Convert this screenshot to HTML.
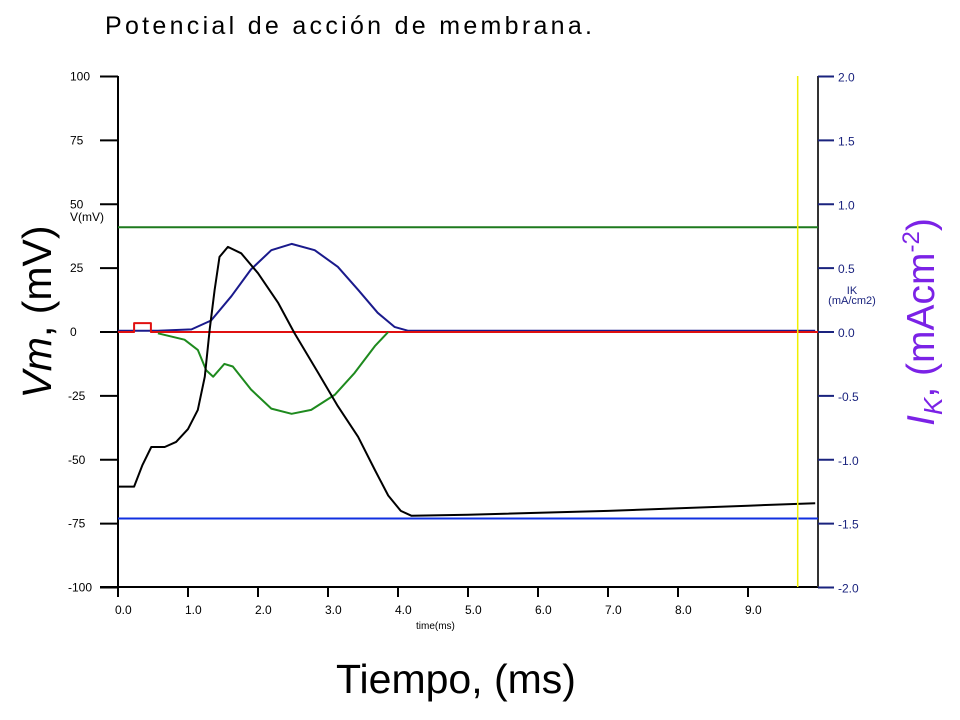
<!DOCTYPE html>
<html><head><meta charset="utf-8"><style>
body{margin:0;background:#fff;width:960px;height:720px;overflow:hidden;font-family:"Liberation Sans",sans-serif}
svg{display:block}
</style></head><body>
<svg id="chart" width="960" height="720" font-family="Liberation Sans, sans-serif">
<text x="105" y="34" font-size="25" textLength="487" lengthAdjust="spacing" fill="#000">Potencial de acción de membrana.</text>
<g id="axes"></g>
<g id="series"></g>
<text transform="translate(51,312) rotate(-90)" text-anchor="middle" font-size="41" fill="#000"><tspan font-style="italic">Vm</tspan>, (mV)</text>
<text x="456" y="693" text-anchor="middle" font-size="41" fill="#000">Tiempo, (ms)</text>
<text transform="translate(934,322) rotate(-90)" text-anchor="middle" font-size="39" fill="#7b22e6"><tspan font-style="italic">I</tspan><tspan font-style="italic" font-size="26" dy="8">K</tspan><tspan dy="-8">, (mAcm</tspan><tspan font-size="24" dy="-15">-2</tspan><tspan dy="15">)</tspan></text>
</svg>
<script>
const xTicks=[0,1,2,3,4,5,6,7,8,9];
const vTicks=[100,75,50,25,0,-25,-50,-75,-100];
const iTicks=[2.0,1.5,1.0,0.5,0.0,-0.5,-1.0,-1.5,-2.0];
const vmTime=[0,0.23,0.35,0.476,0.667,0.83,1.0,1.14,1.24,1.31,1.38,1.45,1.57,1.76,2.0,2.29,2.52,2.86,3.14,3.43,3.67,3.86,4.04,4.19,5,7,9,9.96];
const vmValues=[-60.5,-60.5,-52,-45,-45,-43,-38,-30.5,-17.5,1,16.4,29.4,33.3,30.8,23,11.3,-0.4,-16,-29,-41,-54,-64,-70,-71.9,-71.5,-70,-68,-67];
const ikTime=[0,0.57,1.05,1.33,1.62,1.9,2.19,2.48,2.81,3.14,3.43,3.71,3.95,4.14,9.96];
const ikValues=[0.01,0.01,0.02,0.09,0.28,0.49,0.64,0.69,0.64,0.51,0.33,0.15,0.04,0.01,0.01];
const inaTime=[0.57,0.95,1.14,1.26,1.36,1.52,1.64,1.9,2.19,2.48,2.76,3.1,3.38,3.67,3.86];
const inaValues=[-0.01,-0.06,-0.14,-0.3,-0.35,-0.25,-0.27,-0.45,-0.6,-0.64,-0.61,-0.49,-0.32,-0.11,0];
const stimTime=[0,0.23,0.23,0.47,0.47,10];
const stimValues=[0,0,3.5,3.5,0,0];
const greenLevel=41, blueLevel=-73, cursorTime=9.71;
const X=t=>118+t*70, YV=v=>332-v*2.555, YI=i=>332-i*127.75;
const NS="http://www.w3.org/2000/svg";
function mk(tag,attrs,parent){const e=document.createElementNS(NS,tag);for(const k in attrs)e.setAttribute(k,attrs[k]);parent.appendChild(e);return e;}
const ax=document.getElementById('axes'), se=document.getElementById('series');
let e;
e=mk('line',{x1:118,y1:76,x2:118,y2:597,stroke:'#000','stroke-width':2},ax);


e=mk('line',{x1:100,y1:587,x2:818,y2:587,stroke:'#000','stroke-width':2},ax);


e=mk('line',{x1:818,y1:76,x2:818,y2:587,stroke:'#333','stroke-width':2},ax);


vTicks.forEach(v=>{const y=YV(v);
 e=mk('line',{x1:100,y1:y,x2:118,y2:y,stroke:'#000','stroke-width':2},ax);
 
 
 e=mk('text',{x:v<0?68:70,y:y+4,'font-size':12,fill:'#000'},ax);e.textContent=v===0?'0':(v<0?'-'+Math.abs(v):String(v));
 
 });
e=mk('text',{x:70,y:221,'font-size':12,fill:'#000'},ax);e.textContent='V(mV)';


iTicks.forEach(i=>{const y=YI(i);
 e=mk('line',{x1:818,y1:y,x2:834,y2:y,stroke:'#1a237e','stroke-width':2},ax);
 
 
 e=mk('text',{x:838,y:y+5,'font-size':12,fill:'#1a237e'},ax);e.textContent=i.toFixed(1);
 
 });
e=mk('text',{x:852,y:294,'font-size':11,fill:'#1a237e','text-anchor':'middle'},ax);e.textContent='IK';


e=mk('text',{x:852,y:304,'font-size':11,fill:'#1a237e','text-anchor':'middle'},ax);e.textContent='(mA/cm2)';


xTicks.forEach(t=>{const x=X(t);
 e=mk('line',{x1:x,y1:587,x2:x,y2:597,stroke:'#000','stroke-width':2},ax);
 
 
 e=mk('text',{x:x-3,y:614,'font-size':12,fill:'#000'},ax);e.textContent=t.toFixed(1);
 
 });
e=mk('text',{x:416,y:629,'font-size':10,fill:'#000'},ax);e.textContent='time(ms)';


function line(ts,vs,Y,color,w,name){const d=ts.map((t,i)=>(i?'L':'M')+X(t).toFixed(1)+','+Y(vs[i]).toFixed(1)).join(' ');
 const p=mk('path',{d:d,fill:'none',stroke:color,'stroke-width':w,'stroke-linejoin':'round'},se);
 
 }
e=mk('line',{x1:118,y1:YV(greenLevel),x2:818,y2:YV(greenLevel),stroke:'#1e7a1e','stroke-width':2},se);


e=mk('line',{x1:118,y1:YV(blueLevel),x2:818,y2:YV(blueLevel),stroke:'#1030e0','stroke-width':2},se);


line(ikTime,ikValues,YI,'#1a1a8c',2,'ik-current-line');
line(stimTime,stimValues,YV,'#e01010',2,'stimulus-line');
line(inaTime,inaValues,YI,'#1e8a1e',2,'ina-current-line');
line(vmTime,vmValues,YV,'#000',2,'membrane-potential-line');
e=mk('line',{x1:X(cursorTime),y1:76,x2:X(cursorTime),y2:587,stroke:'#f0f000','stroke-width':1.5},se);


</script>
</body></html>
